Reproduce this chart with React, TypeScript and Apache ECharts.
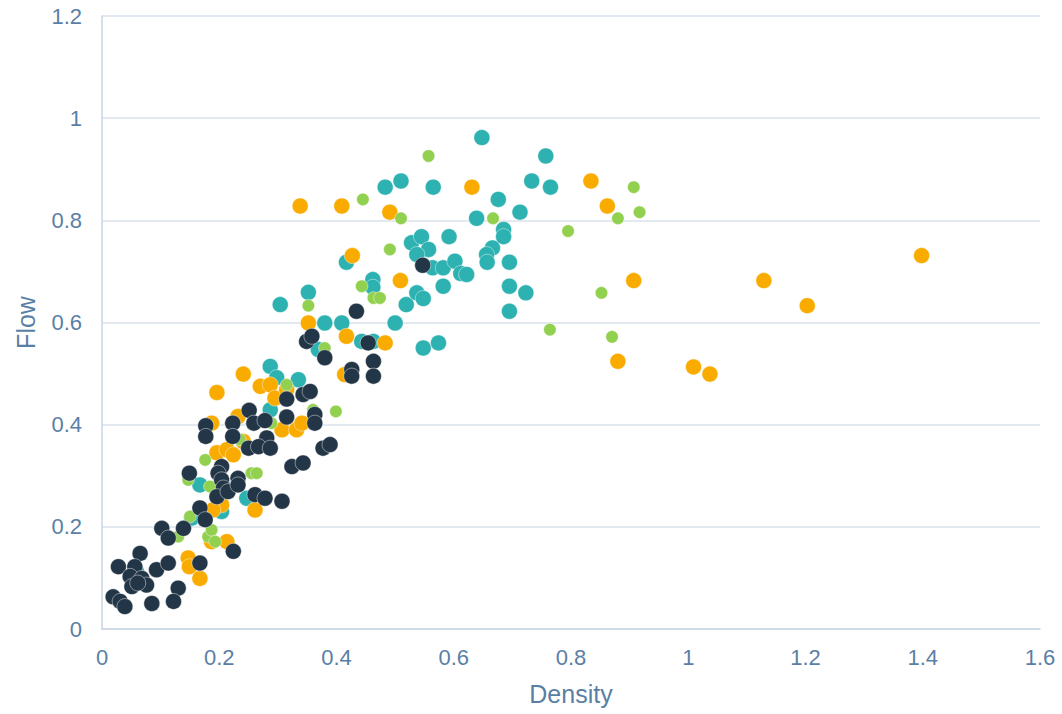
import React, { useEffect, useRef } from "react";
import * as echarts from "echarts";

// Density / Flow observations, four groups
const tealPoints: [number, number][] = [
  [0.204, 0.23], [0.153, 0.217], [0.059, 0.112], [0.287, 0.514], [0.298, 0.492],
  [0.335, 0.488], [0.287, 0.429], [0.167, 0.282], [0.247, 0.256], [0.352, 0.659],
  [0.304, 0.635], [0.38, 0.599], [0.409, 0.599], [0.369, 0.547], [0.443, 0.563],
  [0.463, 0.563], [0.5, 0.599], [0.519, 0.635], [0.537, 0.658], [0.548, 0.647],
  [0.582, 0.671], [0.548, 0.55], [0.574, 0.56], [0.462, 0.684], [0.462, 0.669],
  [0.648, 0.962], [0.483, 0.865], [0.51, 0.877], [0.565, 0.865], [0.733, 0.877],
  [0.757, 0.926], [0.765, 0.865], [0.676, 0.841], [0.713, 0.816], [0.639, 0.804],
  [0.417, 0.718], [0.528, 0.756], [0.545, 0.768], [0.557, 0.743], [0.537, 0.733],
  [0.592, 0.768], [0.564, 0.707], [0.582, 0.707], [0.602, 0.72], [0.612, 0.696],
  [0.622, 0.694], [0.685, 0.782], [0.685, 0.768], [0.666, 0.746], [0.656, 0.733],
  [0.657, 0.718], [0.695, 0.718], [0.695, 0.671], [0.723, 0.658], [0.695, 0.622],
];

const orangePoints: [number, number][] = [
  [0.261, 0.233], [0.187, 0.171], [0.213, 0.171], [0.147, 0.139], [0.149, 0.122],
  [0.167, 0.099], [0.204, 0.243], [0.189, 0.233], [0.241, 0.499], [0.196, 0.463],
  [0.27, 0.475], [0.287, 0.478], [0.295, 0.452], [0.315, 0.469], [0.232, 0.416],
  [0.187, 0.403], [0.307, 0.39], [0.332, 0.39], [0.341, 0.403], [0.241, 0.367],
  [0.196, 0.345], [0.213, 0.351], [0.224, 0.341], [0.352, 0.599], [0.417, 0.573],
  [0.483, 0.56], [0.414, 0.498], [0.338, 0.828], [0.409, 0.828], [0.491, 0.816],
  [0.631, 0.865], [0.427, 0.731], [0.509, 0.682], [0.834, 0.877], [0.862, 0.828],
  [0.907, 0.682], [0.88, 0.524], [1.009, 0.513], [1.037, 0.499], [1.129, 0.682],
  [1.203, 0.633], [1.398, 0.731],
];

const greenPoints: [number, number][] = [
  [0.15, 0.22], [0.181, 0.181], [0.187, 0.194], [0.193, 0.171], [0.13, 0.181],
  [0.315, 0.478], [0.176, 0.331], [0.255, 0.305], [0.264, 0.305], [0.184, 0.279],
  [0.147, 0.292], [0.36, 0.429], [0.289, 0.403], [0.235, 0.371], [0.352, 0.633],
  [0.38, 0.55], [0.443, 0.671], [0.463, 0.648], [0.474, 0.648], [0.399, 0.426],
  [0.445, 0.841], [0.51, 0.804], [0.557, 0.926], [0.667, 0.804], [0.491, 0.743],
  [0.764, 0.586], [0.795, 0.779], [0.907, 0.865], [0.917, 0.816], [0.88, 0.804],
  [0.852, 0.658], [0.87, 0.572],
];

const navyPoints: [number, number][] = [
  [0.307, 0.25], [0.167, 0.237], [0.176, 0.214], [0.102, 0.197], [0.113, 0.178],
  [0.139, 0.197], [0.224, 0.152], [0.065, 0.148], [0.028, 0.122], [0.056, 0.122],
  [0.093, 0.116], [0.113, 0.129], [0.167, 0.129], [0.048, 0.103], [0.068, 0.099],
  [0.076, 0.086], [0.051, 0.083], [0.061, 0.09], [0.13, 0.08], [0.019, 0.063],
  [0.031, 0.054], [0.039, 0.044], [0.085, 0.05], [0.122, 0.054], [0.251, 0.428],
  [0.177, 0.398], [0.177, 0.377], [0.223, 0.403], [0.223, 0.377], [0.259, 0.403],
  [0.278, 0.408], [0.281, 0.374], [0.315, 0.45], [0.343, 0.459], [0.355, 0.465],
  [0.315, 0.415], [0.363, 0.42], [0.363, 0.403], [0.25, 0.354], [0.267, 0.357],
  [0.287, 0.354], [0.377, 0.354], [0.389, 0.361], [0.324, 0.318], [0.343, 0.325],
  [0.149, 0.305], [0.204, 0.318], [0.198, 0.305], [0.204, 0.292], [0.207, 0.276],
  [0.196, 0.259], [0.215, 0.269], [0.232, 0.295], [0.232, 0.282], [0.261, 0.263],
  [0.278, 0.256], [0.434, 0.622], [0.349, 0.563], [0.358, 0.573], [0.38, 0.531],
  [0.454, 0.56], [0.463, 0.524], [0.426, 0.508], [0.426, 0.495], [0.463, 0.495],
  [0.547, 0.712],
];

const xAxisTitle = "Density";
const yAxisTitle = "Flow";

const TEXT = "#5a7fa6";
const FONT = "'Liberation Sans', Arial, sans-serif";

export default function App() {
  const ref = useRef<HTMLDivElement>(null);
  useEffect(() => {
    if (!ref.current) return;
    const chart = echarts.init(ref.current, undefined, { renderer: "svg" });
    const scatter = (data: [number, number][], color: string, size: number) => ({
      type: "scatter",
      data,
      symbolSize: size,
      itemStyle: { color, opacity: 1, borderColor: "rgba(255,255,255,0.55)", borderWidth: 0.8 },
      emphasis: { disabled: true },
    });
    chart.setOption({
      animation: false,
      backgroundColor: "#ffffff",
      textStyle: { fontFamily: FONT },
      grid: { left: 102, right: 22, top: 16, bottom: 85, containLabel: false },
      xAxis: {
        type: "value",
        min: 0,
        max: 1.6,
        interval: 0.2,
        name: xAxisTitle,
        nameLocation: "middle",
        nameGap: 52,
        nameTextStyle: { color: TEXT, fontSize: 25, fontFamily: FONT },
        axisLine: { show: true, lineStyle: { color: "#c9d5e2", width: 1.5 } },
        axisTick: { show: false },
        axisLabel: {
          color: TEXT,
          fontSize: 22,
          fontFamily: FONT,
          margin: 17,
          formatter: (v: number) => String(Math.round(v * 10) / 10),
        },
        splitLine: { show: false },
      },
      yAxis: {
        type: "value",
        min: 0,
        max: 1.2,
        interval: 0.2,
        name: yAxisTitle,
        nameLocation: "middle",
        nameGap: 64,
        nameTextStyle: { color: TEXT, fontSize: 25, fontFamily: FONT },
        axisLine: { show: true, lineStyle: { color: "#c9d5e2", width: 1.5 } },
        axisTick: { show: false },
        axisLabel: {
          color: TEXT,
          fontSize: 22,
          fontFamily: FONT,
          margin: 20,
          formatter: (v: number) => String(Math.round(v * 10) / 10),
        },
        splitLine: { show: true, lineStyle: { color: "#d9e2eb", width: 1.5 } },
      },
      series: [
        scatter(tealPoints, "#2db1b1", 16),
        scatter(orangePoints, "#f9ab00", 16),
        scatter(greenPoints, "#92d050", 12.5),
        scatter(navyPoints, "#233647", 16),
      ],
    });
    return () => chart.dispose();
  }, []);
  return <div ref={ref} style={{ width: 1062, height: 714, position: "absolute", left: 0, top: 0 }} />;
}
